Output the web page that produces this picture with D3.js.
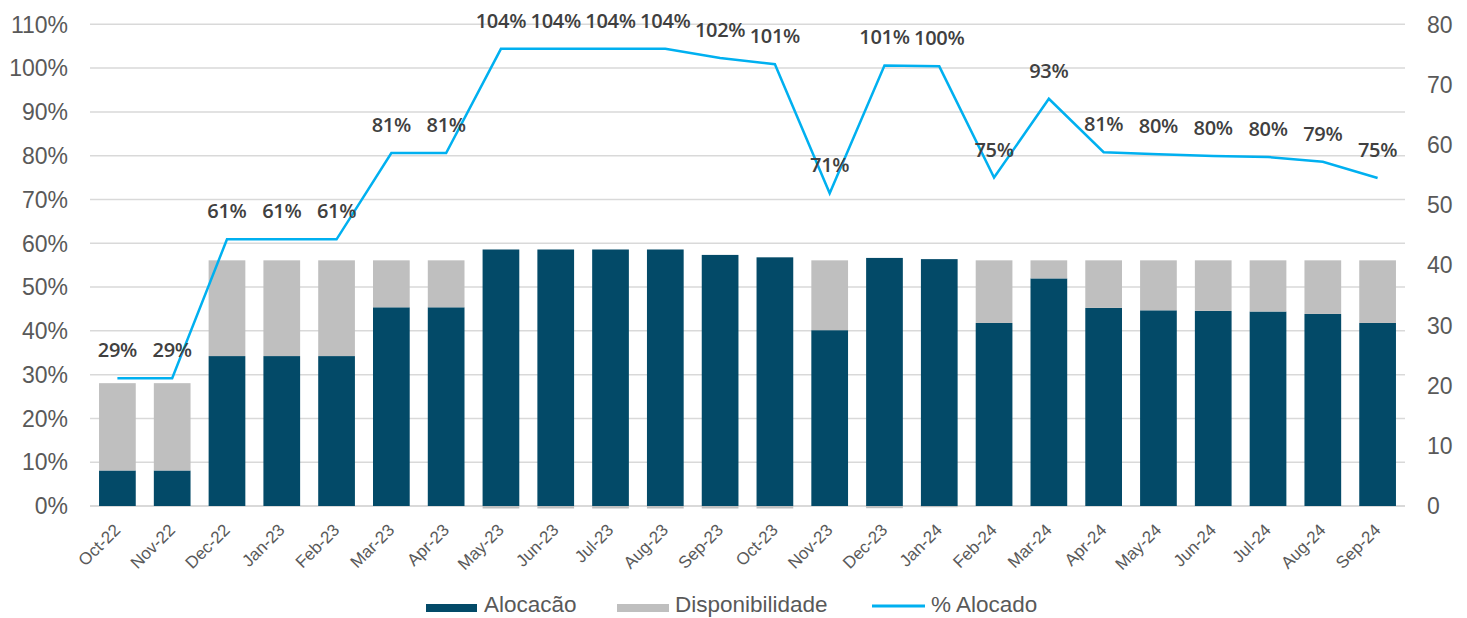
<!DOCTYPE html>
<html>
<head>
<meta charset="utf-8">
<script src="https://cdn.jsdelivr.net/npm/d3@7"></script>
<style>
  body { margin: 0; background: #ffffff; }
  svg { display: block; }
  .tick-label { font-family: "Liberation Sans", Arial, sans-serif; fill: #595959; }
  .pct-label { font-family: "Open Sans", sans-serif; font-weight: 600; fill: #404040; }
</style>
</head>
<body>
<svg id="chart" width="1467" height="618"></svg>
<script>
// months on the x axis
var months = ["Oct-22", "Nov-22", "Dec-22", "Jan-23", "Feb-23", "Mar-23", "Apr-23", "May-23",
    "Jun-23", "Jul-23", "Aug-23", "Sep-23", "Oct-23", "Nov-23", "Dec-23", "Jan-24",
    "Feb-24", "Mar-24", "Apr-24", "May-24", "Jun-24", "Jul-24", "Aug-24", "Sep-24"];

// bars, right axis
var alocacao = [5.9, 5.9, 24.9, 24.9, 24.9, 33.0, 33.0, 42.6, 42.6, 42.6, 42.6, 41.7, 41.3, 29.2,
    41.2, 41.0, 30.4, 37.8, 32.9, 32.5, 32.4, 32.3, 31.9, 30.4];
var disponibilidade = [14.5, 14.5, 15.9, 15.9, 15.9, 7.8, 7.8, -1.8, -1.8, -1.8, -1.8, -0.9, -0.5, 11.6,
    -0.4, -0.2, 10.4, 3.0, 7.9, 8.3, 8.4, 8.5, 8.9, 10.4];

// line, left axis (%)
var pctAlocado = [29.2, 29.2, 60.9, 60.9, 60.9, 80.6, 80.6, 104.4, 104.4, 104.4, 104.4, 102.3, 100.9, 71.4,
    100.6, 100.4, 75.0, 93.0, 80.8, 80.3, 79.9, 79.7, 78.6, 74.9];

var leftTicks = [0, 10, 20, 30, 40, 50, 60, 70, 80, 90, 100, 110];
var rightTicks = [0, 10, 20, 30, 40, 50, 60, 70, 80];

var seriesNames = ["Alocacão", "Disponibilidade", "% Alocado"];
var colors = ["#034a68", "#bfbfbf", "#00b0f0"];

var svg = d3.select("#chart");

var plotLeft = 90, plotRight = 1405, plotTop = 24.3, plotBottom = 506;

var x = d3.scaleBand().domain(months).range([plotLeft, plotRight]).paddingInner(0.33).paddingOuter(0.165);
var yL = d3.scaleLinear().domain([0, 110]).range([plotBottom, plotTop]);
var yR = d3.scaleLinear().domain([0, 80]).range([plotBottom, plotTop]);

// grid
svg.append("g")
    .selectAll("line")
    .data(leftTicks)
    .enter()
    .append("line")
        .attr("x1", plotLeft)
        .attr("x2", plotRight)
        .attr("y1", function (d) { return yL(d); })
        .attr("y2", function (d) { return yL(d); })
        .attr("stroke", "#d9d9d9")
        .attr("stroke-width", function (d) { return d == 0 ? 2 : 1.5; });

// stacked bars
var table = months.map(function (m, i) {
    return { month: m, alocacao: alocacao[i], disponibilidade: disponibilidade[i] };
});
var stacked = d3.stack()
    .keys(["alocacao", "disponibilidade"])
    .offset(d3.stackOffsetDiverging)(table);

svg.append("clipPath")
    .attr("id", "plot-clip")
    .append("rect")
        .attr("x", plotLeft)
        .attr("y", 0)
        .attr("width", plotRight - plotLeft)
        .attr("height", plotBottom + 2.5);

var barGroups = svg.append("g")
    .attr("clip-path", "url(#plot-clip)")
    .selectAll("g")
    .data(stacked)
    .enter()
    .append("g")
        .attr("fill", function (d, i) { return colors[i]; });

barGroups.selectAll("rect")
    .data(function (d) { return d; })
    .enter()
    .append("rect")
        .attr("x", function (d) { return x(d.data.month); })
        .attr("width", x.bandwidth())
        .attr("y", function (d) { return yR(Math.max(d[0], d[1])); })
        .attr("height", function (d) { return Math.abs(yR(d[0]) - yR(d[1])); });

// line
var line = d3.line()
    .x(function (d, i) { return x(months[i]) + x.bandwidth() / 2; })
    .y(function (d) { return yL(d); });

svg.append("path")
    .datum(pctAlocado)
    .attr("d", line)
    .attr("fill", "none")
    .attr("stroke", colors[2])
    .attr("stroke-width", 2.5)
    .attr("stroke-linejoin", "miter");

// % labels above the line
svg.append("g")
    .selectAll("text")
    .data(pctAlocado)
    .enter()
    .append("text")
        .attr("class", "pct-label")
        .attr("x", function (d, i) { return x(months[i]) + x.bandwidth() / 2; })
        .attr("y", function (d) { return yL(d) - 21; })
        .attr("text-anchor", "middle")
        .attr("font-size", 20)
        .attr("letter-spacing", -0.3)
        .text(function (d) { return Math.round(d) + "%"; });

// left axis labels
svg.append("g")
    .selectAll("text")
    .data(leftTicks)
    .enter()
    .append("text")
        .attr("class", "tick-label")
        .attr("x", 68)
        .attr("y", function (d) { return yL(d); })
        .attr("dy", "0.36em")
        .attr("text-anchor", "end")
        .attr("font-size", 23)
        .text(function (d) { return d + "%"; });

// right axis labels
svg.append("g")
    .selectAll("text")
    .data(rightTicks)
    .enter()
    .append("text")
        .attr("class", "tick-label")
        .attr("x", 1427)
        .attr("y", function (d) { return yR(d); })
        .attr("dy", "0.36em")
        .attr("text-anchor", "start")
        .attr("font-size", 23)
        .text(function (d) { return d; });

// month labels
svg.append("g")
    .selectAll("text")
    .data(months)
    .enter()
    .append("text")
        .attr("class", "tick-label")
        .attr("transform", function (d) {
            return "translate(" + (x(d) + x.bandwidth() / 2 + 4) + "," + 531 + ") rotate(-45)";
        })
        .attr("text-anchor", "end")
        .attr("font-size", 17)
        .text(function (d) { return d; });

// legend (kept just inside the bottom edge)
var legend = svg.append("g");
legend.append("rect").attr("x", 426).attr("y", 604).attr("width", 51).attr("height", 8).attr("fill", colors[0]);
legend.append("text").attr("class", "tick-label").attr("x", 484).attr("y", 612).attr("font-size", 22.5).text(seriesNames[0]);
legend.append("rect").attr("x", 617).attr("y", 604).attr("width", 52).attr("height", 8).attr("fill", colors[1]);
legend.append("text").attr("class", "tick-label").attr("x", 675).attr("y", 612).attr("font-size", 22.5).text(seriesNames[1]);
legend.append("line").attr("x1", 872).attr("x2", 925).attr("y1", 606).attr("y2", 606)
    .attr("stroke", colors[2]).attr("stroke-width", 3);
legend.append("text").attr("class", "tick-label").attr("x", 931).attr("y", 612).attr("font-size", 22.5).text(seriesNames[2]);
</script>
</body>
</html>
